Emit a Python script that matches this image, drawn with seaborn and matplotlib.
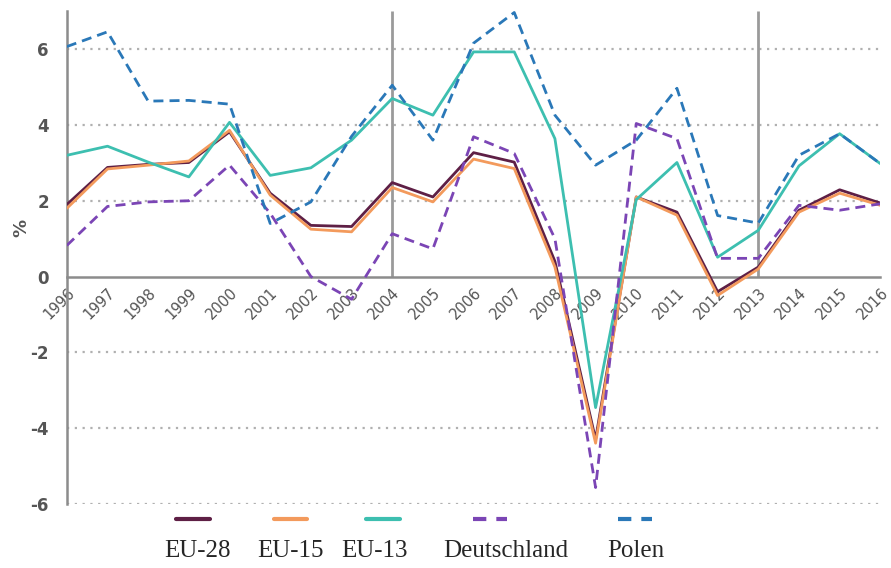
import numpy as np
import pandas as pd
import seaborn as sns
import matplotlib.pyplot as plt
from matplotlib.lines import Line2D

# Data (annual change, %)
years = list(range(1996, 2017))
eu28 = [1.9, 2.88, 2.96, 3.01, 3.82, 2.2, 1.35, 1.32, 2.48, 2.1, 3.27, 3.02, 0.4, -4.3,
        2.1, 1.7, -0.4, 0.25, 1.75, 2.29, 1.94]
eu15 = [1.8, 2.84, 2.94, 3.05, 3.86, 2.15, 1.25, 1.18, 2.35, 1.97, 3.1, 2.85, 0.25, -4.4,
        2.1, 1.62, -0.5, 0.2, 1.7, 2.2, 1.88]
eu13 = [3.2, 3.44, 3.02, 2.63, 4.07, 2.67, 2.87, 3.6, 4.7, 4.26, 5.93, 5.93, 3.64, -3.46,
        2.03, 3.01, 0.51, 1.22, 2.92, 3.77, 2.98]
deutschland = [0.82, 1.85, 1.97, 2.0, 2.94, 1.67, 0.0, -0.6, 1.13, 0.73, 3.69, 3.25, 1.0, -5.57,
               4.04, 3.64, 0.48, 0.48, 1.88, 1.75, 1.92]
polen = [6.07, 6.46, 4.63, 4.65, 4.55, 1.4, 1.97, 3.7, 5.05, 3.6, 6.16, 6.97, 4.26, 2.94,
         3.6, 4.97, 1.61, 1.41, 3.2, 3.77, 2.98]

series_names = ['EU-28', 'EU-15', 'EU-13', 'Deutschland', 'Polen']
series_values = [eu28, eu15, eu13, deutschland, polen]
colors = {'EU-28': '#5e1f45', 'EU-15': '#f39a5c', 'EU-13': '#3dbfb0',
          'Deutschland': '#7b45b5', 'Polen': '#2a78b8'}
dashed = {'EU-28': False, 'EU-15': False, 'EU-13': False, 'Deutschland': True, 'Polen': True}
marker_years = [2004, 2013]
ytick_values = [-6, -4, -2, 0, 2, 4, 6]

df = pd.DataFrame({'Jahr': years})
for name, vals in zip(series_names, series_values):
    df[name] = vals
long_df = df.melt(id_vars='Jahr', var_name='Reihe', value_name='Wert')

sns.set_style('white')
plt.rcParams['font.family'] = ['DejaVu Sans']

grey = '#8c8c8c'
text_grey = '#555555'

fig = plt.figure(figsize=(8.91, 5.68), dpi=100)
ax = fig.add_axes([0.075, 0.113, 0.913, 0.867])

# vertical markers (EU enlargement years)
ax.vlines(marker_years, 0, 7, color='#9a9a9a', linewidth=2, zorder=1)

for name in series_names:
    sub = long_df[long_df['Reihe'] == name]
    sns.lineplot(data=sub, x='Jahr', y='Wert', color=colors[name], linewidth=2.0,
                 ax=ax, zorder=3)
    if dashed[name]:
        ax.lines[-1].set_dashes((3.6, 2.2))

ax.set_xlim(years[0], years[-1])
ax.set_ylim(-6, 7)
ax.set_yticks(ytick_values)
ax.set_xticks(years)
ax.set_xticklabels([str(y) for y in years])
ax.set_yticklabels([str(v) for v in ytick_values])

# dotted horizontal gridlines
for v in ytick_values:
    if v != 0:
        ax.axhline(v, color='#b0b0b0', linestyle=(0, (1, 2.5)), linewidth=1.6, zorder=0)

ax.spines['top'].set_visible(False)
ax.spines['right'].set_visible(False)
ax.spines['bottom'].set_position(('data', 0))
ax.spines['bottom'].set_color(grey)
ax.spines['bottom'].set_linewidth(1.8)
ax.spines['left'].set_color(grey)
ax.spines['left'].set_linewidth(1.8)
ax.tick_params(axis='x', direction='inout', length=6, color=grey, pad=3,
               labelsize=10.5, labelcolor=text_grey)
ax.tick_params(axis='y', direction='out', length=5, color=grey, pad=8,
               labelsize=12, labelcolor=text_grey)
for lbl in ax.get_xticklabels():
    lbl.set_rotation(45)
    lbl.set_ha('right')
    lbl.set_rotation_mode('anchor')
for lbl in ax.get_yticklabels():
    lbl.set_fontweight('semibold')

ax.set_xlabel('')
ax.set_ylabel('%', fontsize=13, color=text_grey, fontweight='semibold')
ax.yaxis.set_label_coords(-0.045, 0.56)

# legend: sample line above, label below
legend_x = {'EU-28': (0.217, 0.222), 'EU-15': (0.326, 0.326), 'EU-13': (0.430, 0.42),
            'Deutschland': (0.55, 0.568), 'Polen': (0.713, 0.714)}
for name in series_names:
    hx, tx = legend_x[name]
    handle = Line2D([hx - 0.019, hx + 0.019], [0.086, 0.086], transform=fig.transFigure,
                    color=colors[name], linewidth=3)
    if dashed[name]:
        handle.set_dashes((3.2, 2.4))
    fig.add_artist(handle)
    fig.text(tx, 0.03, name, ha='center', va='center', fontsize=18,
             family=['Liberation Serif', 'DejaVu Serif'])

fig.savefig('out.png', dpi=100)
